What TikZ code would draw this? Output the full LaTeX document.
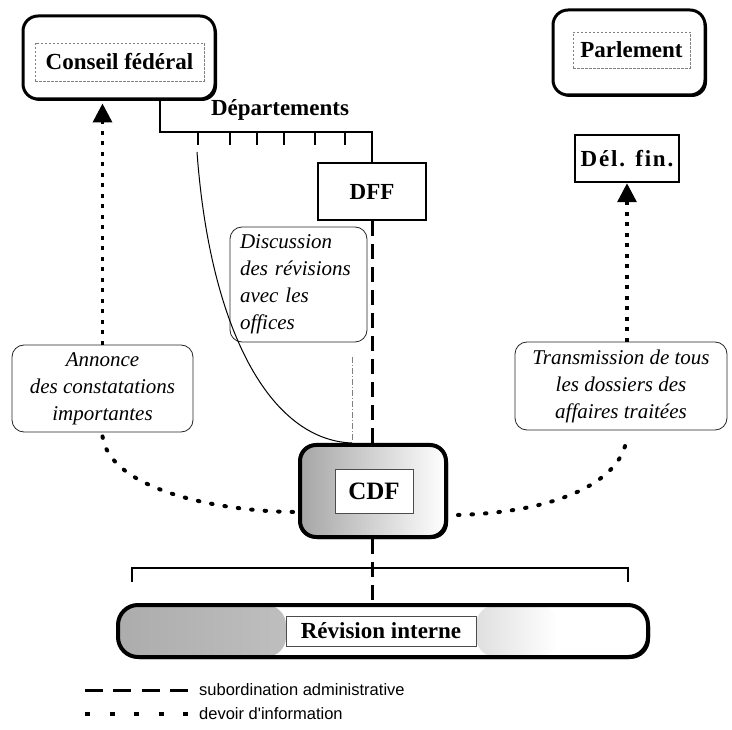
\documentclass[tikz,border=0pt]{standalone}
\usepackage{fontspec}
\setmainfont{Liberation Serif}
\newfontfamily\legendfont{Liberation Sans}
\usetikzlibrary{arrows.meta,calc,shadows}
\begin{document}
\begin{tikzpicture}[x=1pt,y=-1pt,
  bigbox/.style={draw, line width=3pt, rounded corners=15pt, fill=white, inner sep=0pt,
    drop shadow={shadow xshift=2pt, shadow yshift=-2pt, fill=black, opacity=1}},
  innerdash/.style={draw=gray, line width=0.6pt, dash pattern=on 2.5pt off 1.5pt, inner sep=0pt,
    font=\fontsize{23}{27}\selectfont\bfseries},
  labelbold/.style={font=\fontsize{23}{27}\selectfont\bfseries},
  plainbox/.style={draw, line width=2.5pt, fill=white, inner sep=0pt, labelbold},
  note/.style={draw=black!85, line width=0.8pt, rounded corners=12pt, fill=white, inner sep=0pt,
    font=\fontsize{21}{27}\selectfont\itshape, align=center},
  innerwhite/.style={draw=black!70, line width=0.6pt, fill=white, inner sep=0pt},
  sub/.style={line width=3pt, dash pattern=on 15pt off 8pt},
  info/.style={line width=3.5pt, dash pattern=on 4pt off 6.5pt},
  infocurve/.style={line width=4pt, line cap=round, dash pattern=on 1.5pt off 12pt},
  tip/.style={-{Triangle[length=19pt,width=19pt]}},
  legendtext/.style={anchor=west, inner sep=0pt, font=\legendfont\fontsize{16.5}{19}\selectfont}
]
\useasboundingbox (0,0) rectangle (732,730);

% top boxes
\node[bigbox, minimum width=192pt, minimum height=83pt] (cf) at (119,57.5) {};
\node[innerdash, minimum width=169pt, minimum height=38pt] (cfi) at (119.5,62) {Conseil fédéral};
\node[bigbox, minimum width=152pt, minimum height=85pt] (parl) at (629,52.5) {};
\node[innerdash, minimum width=117pt, minimum height=36pt] (parli) at (631.5,50) {Parlement};
\node[plainbox, minimum width=104pt, minimum height=47pt] (del) at (627,158.5) {\addfontfeature{LetterSpace=8}Dél. fin.};
\node[plainbox, minimum width=108pt, minimum height=57pt] (dff) at (372,191.5) {DFF};
\node[labelbold, inner sep=0pt] (dep) at (280,110) {Départements};

% notes
\node[note, text width=117pt, align=left, minimum width=137pt, minimum height=115pt] (disc) at (298.5,284.5)
  {Discussion\\des révisions\\avec les\\offices};
\node[note, minimum width=181pt, minimum height=87pt] (ann) at (102.5,388.5)
  {Annonce\\des constatations\\importantes};
\node[note, minimum width=212pt, minimum height=88pt] (trans) at (621,386)
  {Transmission de tous\\les dossiers des\\affaires traitées};

% CDF
\node[bigbox, line width=4pt, rounded corners=16pt, minimum width=146pt, minimum height=92pt,
  path picture={\shade[left color=gray!70, right color=white]
    (path picture bounding box.south west) rectangle (path picture bounding box.north east);}]
  (cdf) at (373,491) {};
\node[innerwhite, minimum width=78pt, minimum height=44pt, font=\fontsize{25}{30}\selectfont\bfseries]
  (cdfi) at (374,491) {CDF};

% Revision interne
\node[bigbox, line width=4pt, rounded corners=20pt, minimum width=530pt, minimum height=52pt,
  path picture={
    \shade[left color=gray!65, right color=gray!20]
      (path picture bounding box.south west) rectangle ([xshift=168pt]path picture bounding box.north west);
    \shade[left color=gray!25, right color=white]
      ([xshift=358pt]path picture bounding box.south west) rectangle ([xshift=440pt]path picture bounding box.north west);}]
  (rev) at (383,631) {};
\node[innerwhite, minimum width=190pt, minimum height=30pt, labelbold] (revi) at (381,631) {Révision interne};

% departements structure
\coordinate (dcorner) at (160,132);
\draw[line width=2.5pt] (cf.south -| dcorner) -- (dcorner) -- (dcorner -| dff.north) -- (dff.north);
\foreach \x in {198,230,257,284,315,345}
  \draw[line width=2.5pt] (\x,132) -- (\x,145);

% curve from departements to CDF
\coordinate (cstart) at (197,152);
\draw[line width=1pt] (cstart) .. controls (210,330) and (270,440) .. ([xshift=-21pt]cdf.north);
\draw[gray, line width=0.5pt, dash pattern=on 6pt off 2pt on 1pt off 2pt] (352,357) -- (352,440);

% subordination
\draw[sub] (dff.south) -- (dff.south |- cdf.north);
\draw[sub] (dff.south |- cdf.south) -- (dff.south |- rev.north);

% information
\draw[info, tip] (ann.north) -- ($(cf.south -| ann.north)+(0,3)$);
\draw[info, tip] (trans.north -| del.south) -- (del.south);
\draw[infocurve] ($(ann.south)+(0,4)$) .. controls (110,490) and (220,512) .. ($(cdf.west)+(0,21)$);
\draw[infocurve] ($(cdf.east)+(10,24)$) .. controls (560,512) and (625,480) .. ($(trans.south -| del.south)+(0,4)$);

% bracket
\coordinate (bl) at (132,582);
\coordinate (br) at (628,582);
\draw[line width=2.5pt] (bl) -- ++(0,-14) -| (br);

% legend
\coordinate (l1a) at (85,690); \coordinate (l1b) at (188,690);
\coordinate (l2a) at (85,714); \coordinate (l2b) at (188,714);
\draw[line width=3pt, dash pattern=on 18pt off 10.3pt] (l1a) -- (l1b);
\draw[line width=4pt, dash pattern=on 5pt off 19.5pt] (l2a) -- (l2b);
\node[legendtext] (lg1) at (199,690) {subordination administrative};
\node[legendtext] (lg2) at (199,714) {devoir d'information};
\end{tikzpicture}
\end{document}
